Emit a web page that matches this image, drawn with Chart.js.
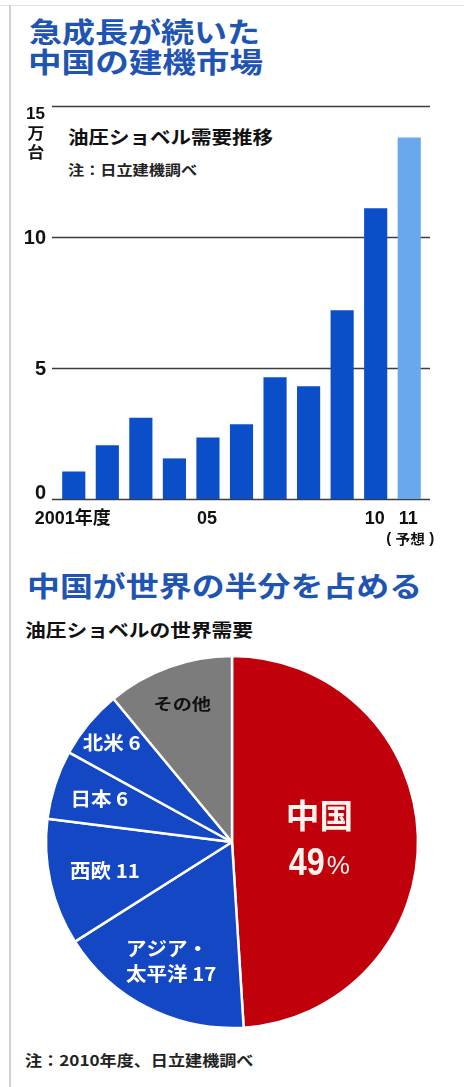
<!DOCTYPE html>
<html lang="ja">
<head>
<meta charset="utf-8">
<title>中国の建機市場</title>
<script src="https://cdn.jsdelivr.net/npm/chart.js@4.4.0/dist/chart.umd.min.js"></script>
<style>
    body { margin: 0; background: #fff; }
    #pagina { position: relative; width: 464px; height: 1087px; overflow: hidden; font-family: "Noto Sans CJK JP", sans-serif; }
    .txt { position: absolute; white-space: nowrap; line-height: 1; transform-origin: 0 0; }
    .midashi { color: #1f55b2; font-size: 28px; font-weight: 700; }
    .sub { color: #111; font-size: 18px; font-weight: 700; }
    .nota { color: #222; font-size: 14px; font-weight: 700; }
    .borda-esq { position: absolute; left: 9px; top: 5px; width: 2px; height: 1082px; background: #cfcfcf; }
    .borda-topo { position: absolute; left: 0; top: 5px; width: 464px; height: 1px; background: #e2e2e2; }
    #caixaBarras { position: absolute; left: 0; top: 95px; width: 464px; height: 460px; }
    #caixaPizza { position: absolute; left: 0; top: 640px; width: 464px; height: 400px; }
</style>
</head>
<body>
<div id="pagina">
    <div class="borda-topo"></div>
    <div class="borda-esq"></div>

    <div class="txt midashi" style="left:29px; top:17px" data-w="231">急成長が続いた</div>
    <div class="txt midashi" style="left:28px; top:47px" data-w="235">中国の建機市場</div>
    <div class="txt sub" style="left:68px; top:127px" data-w="205">油圧ショベル需要推移</div>
    <div class="txt nota" style="left:68px; top:162px" data-w="129">注：日立建機調べ</div>

    <div id="caixaBarras"><canvas id="chartBarras" width="464" height="460"></canvas></div>

    <div class="txt midashi" style="left:27px; top:571px" data-w="395">中国が世界の半分を占める</div>
    <div class="txt sub" style="left:25px; top:620px" data-w="228">油圧ショベルの世界需要</div>

    <div id="caixaPizza"><canvas id="chartPizza" width="464" height="400"></canvas></div>

    <div class="txt nota" style="left:25px; top:1052px; font-size:15px" data-w="228">注：2010年度、日立建機調べ</div>
</div>

<script>
// demanda anual de escavadeiras hidráulicas na China (10 mil unidades)
var anos = ['2001', '2002', '2003', '2004', '2005', '2006', '2007', '2008', '2009', '2010', '2011'];
var rotulosX = ['2001年度', '', '', '', '05', '', '', '', '', '10', '11'];
var demanda = [1.05, 2.05, 3.1, 1.55, 2.35, 2.85, 4.65, 4.3, 7.2, 11.1, 13.8];
var previsao = [false, false, false, false, false, false, false, false, false, false, true];
var ticksY = [0, 5, 10, 15];

// participação na demanda mundial, 2010 (%)
var regioes = ['中国', 'アジア・太平洋', '西欧', '日本', '北米', 'その他'];
var participacao = [49, 17, 11, 6, 6, 11];

var azulBarra = '#0b4fc8';
var azulPrevisao = '#6aa8ee';
var coresPizza = ['#c0000b', '#1447c4', '#1447c4', '#1447c4', '#1447c4', '#7c7c7c'];

var fonteNum = '"Liberation Sans", "Noto Sans CJK JP", sans-serif';
var fonteJp = '"Noto Sans CJK JP", sans-serif';

function textoEsticado(ctx, texto, x, y, escalaX, alinhamento) {
    ctx.save();
    ctx.translate(x, y);
    ctx.scale(escalaX, 1);
    ctx.textAlign = alinhamento || 'center';
    ctx.fillText(texto, 0, 0);
    ctx.restore();
}

// linhas horizontais passam um pouco além da área das barras
var linhasGrade = {
    id: 'linhasGrade',
    beforeDatasetsDraw(chart) {
        var ctx = chart.ctx;
        var area = chart.chartArea;
        var y = chart.scales.y;
        ctx.save();
        ctx.strokeStyle = '#3c3c3c';
        ctx.lineWidth = 1.6;
        for (var i = 0; i < ticksY.length; i++) {
            var py = Math.round(y.getPixelForValue(ticksY[i])) + 0.5;
            ctx.beginPath();
            ctx.moveTo(area.left - 5, py);
            ctx.lineTo(area.right + 4, py);
            ctx.stroke();
        }
        ctx.restore();
    }
};

var rotulosEixos = {
    id: 'rotulosEixos',
    afterDraw(chart) {
        var ctx = chart.ctx;
        var area = chart.chartArea;
        var x = chart.scales.x;
        var y = chart.scales.y;
        ctx.save();
        ctx.fillStyle = '#111';
        ctx.textBaseline = 'middle';

        // eixo Y: o 0 fica acima da linha, o 15 abaixo (com a unidade embaixo)
        for (var i = 0; i < ticksY.length; i++) {
            var v = ticksY[i];
            var py = y.getPixelForValue(v);
            if (v == 15) {
                ctx.font = 'bold 17px ' + fonteNum;
                textoEsticado(ctx, String(v), area.left - 12, py + 8, 1, 'right');
                ctx.font = 'bold 16px ' + fonteJp;
                textoEsticado(ctx, '万', area.left - 21, py + 27, 1.05, 'center');
                textoEsticado(ctx, '台', area.left - 21, py + 46, 1.05, 'center');
            } else {
                ctx.font = 'bold 20px ' + fonteNum;
                textoEsticado(ctx, String(v), area.left - 11, v == 0 ? py - 6 : py + 1, 1, 'right');
            }
        }

        // eixo X
        ctx.textBaseline = 'alphabetic';
        for (var j = 0; j < rotulosX.length; j++) {
            if (!rotulosX[j]) continue;
            var px = x.getPixelForValue(j);
            ctx.font = 'bold 18px ' + fonteNum;
            textoEsticado(ctx, rotulosX[j], px - 1, area.bottom + 25, 1, 'center');
            if (previsao[j]) {
                // "(予想)" com os parênteses um pouco afastados
                var base = area.bottom + 45;
                ctx.font = 'bold 14px ' + fonteJp;
                textoEsticado(ctx, '予想', px + 1, base, 1.05, 'center');
                ctx.font = 'bold 15px ' + fonteNum;
                textoEsticado(ctx, '(', px - 18, base - 1, 1, 'right');
                textoEsticado(ctx, ')', px + 20, base - 1, 1, 'left');
            }
        }
        ctx.restore();
    }
};

var graficoBarras = new Chart(document.getElementById('chartBarras'), {
    type: 'bar',
    data: {
        labels: anos,
        datasets: [{
            label: '油圧ショベル需要',
            data: demanda,
            backgroundColor: previsao.map(function (p) { return p ? azulPrevisao : azulBarra; }),
            borderWidth: 0,
            categoryPercentage: 1,
            barPercentage: 0.69
        }]
    },
    options: {
        responsive: false,
        devicePixelRatio: 1,
        animation: false,
        layout: { padding: { left: 57, right: 38, top: 11, bottom: 56 } },
        plugins: { legend: { display: false }, tooltip: { enabled: false } },
        scales: {
            x: { display: false },
            y: { display: false, min: 0, max: 15 }
        }
    },
    plugins: [linhasGrade, rotulosEixos]
});

// posição radial de cada rótulo (fração do raio)
var raioRotulo = [0.47, 0.72, 0.70, 0.75, 0.84, 0.79];

var rotulosPizza = {
    id: 'rotulosPizza',
    afterDraw(chart) {
        var ctx = chart.ctx;
        var arcos = chart.getDatasetMeta(0).data;
        ctx.save();
        ctx.textBaseline = 'middle';
        for (var i = 0; i < arcos.length; i++) {
            var a = arcos[i];
            var meio = (a.startAngle + a.endAngle) / 2;
            var cx = a.x + Math.cos(meio) * a.outerRadius * raioRotulo[i];
            var cy = a.y + Math.sin(meio) * a.outerRadius * raioRotulo[i];
            var nome = regioes[i];
            var valor = participacao[i];

            if (i == 0) {
                ctx.fillStyle = '#fff3ee';
                ctx.font = 'bold 33px ' + fonteJp;
                textoEsticado(ctx, nome, cx, cy - 24, 1.02, 'center');
                ctx.font = 'bold 38px ' + fonteNum;
                var larg = ctx.measureText(String(valor)).width * 0.85;
                ctx.font = '26px ' + fonteNum;
                var largPct = ctx.measureText('%').width;
                var ini = cx - (larg + largPct + 2) / 2;
                ctx.font = 'bold 38px ' + fonteNum;
                textoEsticado(ctx, String(valor), ini, cy + 25, 0.85, 'left');
                ctx.font = '26px ' + fonteNum;
                textoEsticado(ctx, '%', ini + larg + 2, cy + 28, 1, 'left');
            } else if (nome == 'その他') {
                ctx.fillStyle = '#111';
                ctx.font = 'bold 16px ' + fonteJp;
                textoEsticado(ctx, nome, cx, cy, 1.2, 'center');
            } else {
                ctx.fillStyle = '#fff';
                ctx.font = 'bold 19px ' + fonteJp;
                var linhas;
                if (nome.indexOf('・') >= 0) {
                    var partes = nome.split('・');
                    linhas = [partes[0] + '・', partes[1] + ' ' + valor];
                } else {
                    linhas = [nome + ' ' + valor];
                }
                var esc = 1.08;
                var maior = 0;
                for (var k = 0; k < linhas.length; k++) {
                    maior = Math.max(maior, ctx.measureText(linhas[k]).width * esc);
                }
                var esquerda = cx - maior / 2;
                for (var k = 0; k < linhas.length; k++) {
                    var ly = cy + (k - (linhas.length - 1) / 2) * 25;
                    textoEsticado(ctx, linhas[k], esquerda, ly, esc, 'left');
                }
            }
        }
        ctx.restore();
    }
};

var graficoPizza = new Chart(document.getElementById('chartPizza'), {
    type: 'pie',
    data: {
        labels: regioes,
        datasets: [{
            data: participacao,
            backgroundColor: coresPizza,
            borderColor: '#fff',
            borderWidth: 2.5,
            radius: 186
        }]
    },
    options: {
        responsive: false,
        devicePixelRatio: 1,
        animation: false,
        layout: { padding: { left: 46, right: 46, top: 16, bottom: 12 } },
        plugins: { legend: { display: false }, tooltip: { enabled: false } }
    },
    plugins: [rotulosPizza]
});

// os textos do título são levemente alargados na horizontal
document.querySelectorAll('.txt').forEach(function (el) {
    var alvo = Number(el.dataset.w);
    el.style.transform = 'scaleX(' + (alvo / el.offsetWidth).toFixed(3) + ')';
});
</script>
</body>
</html>
